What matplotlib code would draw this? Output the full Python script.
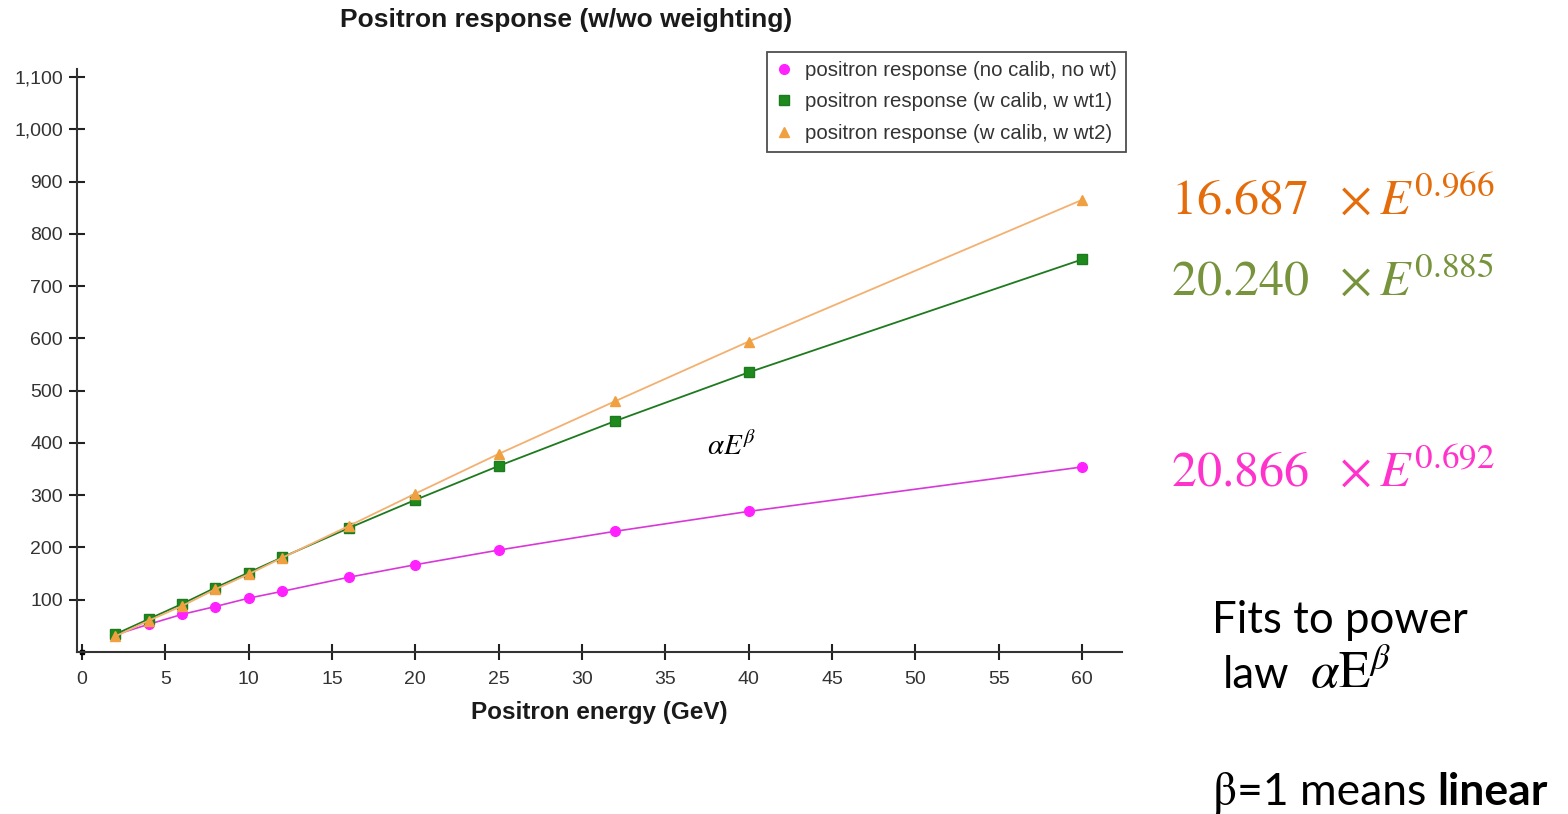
import matplotlib
matplotlib.use("Agg")
import matplotlib.pyplot as plt
from matplotlib.ticker import FuncFormatter, MultipleLocator

# positron energy points (GeV)
energy = [2, 4, 6, 8, 10, 12, 16, 20, 25, 32, 40, 60]

# detector response for each configuration
resp_nocalib = [33, 53, 72, 87, 103, 116, 143, 167, 195, 231, 269, 354]
resp_wt1 = [34, 63, 92, 123, 152, 181, 237, 291, 356, 442, 535, 751]
resp_wt2 = [30, 60, 88, 120, 149, 180, 241, 303, 379, 480, 594, 865]

legend_labels = [
    "positron response (no calib, no wt)",
    "positron response (w calib, w wt1)",
    "positron response (w calib, w wt2)",
]

# power-law fit results (alpha, beta)
fit_wt2 = (16.687, 0.966)
fit_wt1 = (20.240, 0.885)
fit_nocalib = (20.866, 0.692)

plt.rcParams['font.family'] = ['Liberation Sans', 'DejaVu Sans']

fig = plt.figure(figsize=(15.68, 8.14), dpi=100)
ax = fig.add_axes([0.0491, 0.199, 0.6665, 0.716])

ax.plot(energy, resp_nocalib, '-o', color='#d838d8', lw=1.2, ms=7,
        mfc='#ff22ff', mec='#ff22ff', label=legend_labels[0])
ax.plot(energy, resp_wt1, '-s', color='#1e7a1e', lw=1.3, ms=7,
        mfc='#1e8a1e', mec='#1e7a1e', label=legend_labels[1])
ax.plot(energy, resp_wt2, '-^', color='#f4b070', lw=1.3, ms=7,
        mfc='#f0a040', mec='#f0a040', label=legend_labels[2])

ax.set_xlim(-0.3, 62.4)
ax.set_ylim(0, 1115)
ax.xaxis.set_major_locator(MultipleLocator(5))
ax.set_yticks(range(100, 1101, 100))
ax.yaxis.set_major_formatter(FuncFormatter(lambda v, p: f"{int(v):,}"))

for side in ('top', 'right'):
    ax.spines[side].set_visible(False)
for side in ('left', 'bottom'):
    ax.spines[side].set_color('#333333')
    ax.spines[side].set_linewidth(1.5)
ax.tick_params(direction='inout', length=12, width=1.5, color='#222222',
               labelsize=14, labelcolor='#333333')
ax.tick_params(axis='x', pad=8)
ax.tick_params(axis='y', pad=4)
ax.plot([0], [0], 's', color='black', ms=3, clip_on=False)

ax.set_xlabel("Positron energy (GeV)", fontsize=17.5, fontweight='bold',
              color='#1a1a1a', labelpad=9)
fig.text(0.361, 0.976, "Positron response (w/wo weighting)", fontsize=19,
         fontweight='bold', color='#1a1a1a', ha='center', va='center')

leg = ax.legend(loc='upper right', bbox_to_anchor=(1.0135, 1.047), fontsize=14.7,
                frameon=True, fancybox=False, handlelength=0.8,
                handletextpad=0.6, borderpad=0.45, labelspacing=0.6,
                labelcolor='#333333')
leg.get_frame().set_edgecolor('#222222')
leg.get_frame().set_linewidth(1.3)
for h in leg.legend_handles:
    h.set_linestyle('None')
    h.set_markersize(7)

ax.text(39, 392, r"$\alpha E^{\beta}$", fontsize=21, math_fontfamily='stix',
        ha='center', va='center')

# fit formulas on the right
fits = [(fit_wt2, '#e46c0a', 0.738), (fit_wt1, '#77933c', 0.638),
        (fit_nocalib, '#ff33cc', 0.403)]
for (a, b), col, yy in fits:
    fig.text(0.747, yy, rf"${a:.3f}\ \ \times E^{{{b:.3f}}}$", fontsize=36,
             color=col, math_fontfamily='stix', va='baseline')

fig.text(0.773, 0.222, "Fits to power", fontsize=31.5, family='Lato',
         va='baseline')
t_law = fig.text(0.780, 0.155, "law", fontsize=31.5, family='Lato',
                 va='baseline')
fig.canvas.draw()
bb = t_law.get_window_extent()
fig.text((bb.x1 + 20) / fig.bbox.width, 0.155, r"$\alpha\mathrm{E}^{\beta}$",
         fontsize=37, math_fontfamily='stix', va='baseline')

t1 = fig.text(0.773, 0.011, r"$\mathrm{\beta}$", fontsize=34,
              math_fontfamily='stix', va='baseline')
fig.canvas.draw()
bb = t1.get_window_extent()
t2 = fig.text((bb.x1 + 1) / fig.bbox.width, 0.011, "=1 means", fontsize=32,
              family='Lato', va='baseline')
fig.canvas.draw()
bb = t2.get_window_extent()
fig.text((bb.x1 + 11) / fig.bbox.width, 0.011, "linear", fontsize=32,
         family='Lato', fontweight='bold', va='baseline')

fig.savefig("out.png", dpi=100)
